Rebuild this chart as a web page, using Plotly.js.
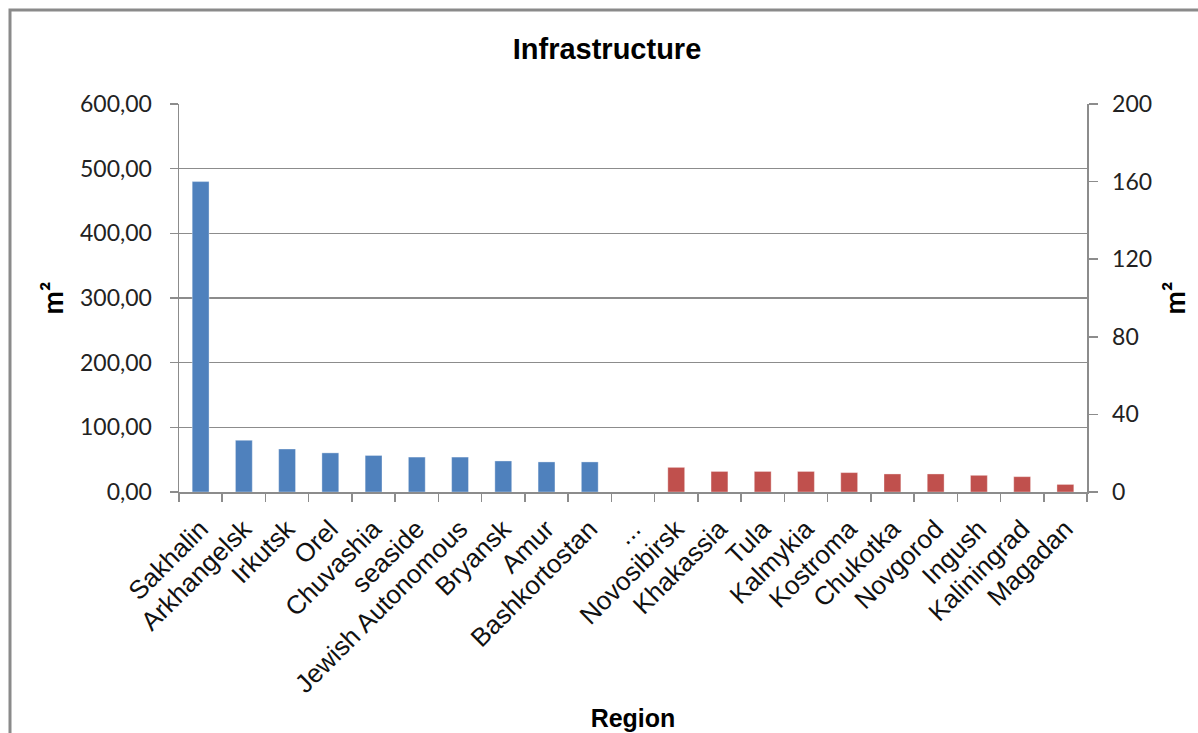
<!DOCTYPE html>
<html>
<head>
<meta charset="utf-8">
<script src="https://cdn.plot.ly/plotly-3.0.1.min.js"></script>
<style>
  html, body { margin: 0; padding: 0; background: #ffffff; }
  #chart { width: 1198px; height: 733px; }
</style>
</head>
<body>
<div id="chart"></div>
<script>
// Region categories in display order ("..." marks the omitted middle of the ranking)
const regions = [
  "Sakhalin", "Arkhangelsk", "Irkutsk", "Orel", "Chuvashia", "seaside",
  "Jewish Autonomous", "Bryansk", "Amur", "Bashkortostan",
  "...",
  "Novosibirsk", "Khakassia", "Tula", "Kalmykia", "Kostroma", "Chukotka",
  "Novgorod", "Ingush", "Kaliningrad", "Magadan"
];
// Top regions (left axis, m²)
const topRegions = regions.slice(0, 10);
const topValues = [480, 80, 66.5, 60.5, 56.5, 54, 54, 48, 46.5, 46.5];
// Bottom regions (right axis, m²)
const bottomRegions = regions.slice(11);
const bottomValues = [12.7, 10.6, 10.6, 10.6, 10, 9.3, 9.3, 8.6, 7.9, 3.9];

const leftTicks = [0, 100, 200, 300, 400, 500, 600];
const rightTicks = [0, 40, 80, 120, 160, 200];

const W = 1198, H = 733;
const M = { l: 179, r: 111, t: 104, b: 241 };
const plotW = W - M.l - M.r, plotH = H - M.t - M.b;
const px2x = (px) => (px - M.l) / plotW;
const px2y = (py) => (H - M.b - py) / plotH;

const gridColor = "#8c8c8c";
const axisColor = "#8c8c8c";

const traces = [
  {
    type: "bar",
    x: topRegions,
    y: topValues,
    yaxis: "y",
    width: 0.39,
    marker: { color: "#4F81BD", line: { width: 0.6, color: "rgba(255,255,255,0.6)" } },
    hoverinfo: "x+y",
    showlegend: false
  },
  {
    type: "bar",
    x: bottomRegions,
    y: bottomValues,
    yaxis: "y2",
    width: 0.39,
    marker: { color: "#C0504D", line: { width: 0.6, color: "rgba(255,255,255,0.6)" } },
    hoverinfo: "x+y",
    showlegend: false
  }
];

const layout = {
  width: W,
  height: H,
  margin: M,
  paper_bgcolor: "#ffffff",
  plot_bgcolor: "#ffffff",
  barmode: "overlay",
  separators: ", ",
  showlegend: false,
  title: {
    text: "<b>Infrastructure</b>",
    font: { family: "Liberation Sans, Arial, sans-serif", size: 29, color: "#000" },
    x: 607 / W,
    xref: "container",
    xanchor: "center",
    y: 1 - 49 / H,
    yref: "container",
    yanchor: "middle"
  },
  xaxis: {
    type: "category",
    categoryorder: "array",
    categoryarray: regions,
    range: [-0.5, regions.length - 0.5],
    tickangle: -45,
    tickfont: { family: "Liberation Sans, Arial, sans-serif", size: 26, color: "#111" },
    ticks: "outside",
    tickson: "boundaries",
    ticklen: 8,
    tickcolor: axisColor,
    tickwidth: 1.5,
    ticklabelstandoff: 10,
    showline: true,
    linecolor: axisColor,
    linewidth: 1.5,
    showgrid: false,
    zeroline: false,
    automargin: false,
    fixedrange: true,
    title: {
      text: "<b>Region</b>",
      font: { family: "Liberation Sans, Arial, sans-serif", size: 25, color: "#000" },
      standoff: 12
    }
  },
  yaxis: {
    range: [0, 600],
    tickvals: leftTicks,
    tickformat: ".2f",
    tickfont: { family: "Lato, sans-serif", size: 23, color: "#222" },
    ticks: "outside",
    ticklen: 8,
    tickcolor: axisColor,
    tickwidth: 1.5,
    ticklabelstandoff: 13,
    showline: true,
    linecolor: axisColor,
    linewidth: 1.5,
    showgrid: true,
    gridcolor: gridColor,
    gridwidth: 1.5,
    zeroline: false,
    automargin: false,
    fixedrange: true,
    title: {
      text: "<b>m²</b>",
      font: { family: "Lato, sans-serif", size: 28, color: "#000" },
      standoff: 8
    }
  },
  yaxis2: {
    overlaying: "y",
    side: "right",
    range: [0, 200],
    tickvals: rightTicks,
    tickfont: { family: "Lato, sans-serif", size: 23, color: "#222" },
    ticks: "outside",
    ticklen: 9,
    tickcolor: axisColor,
    tickwidth: 1.5,
    ticklabelstandoff: 10,
    showline: true,
    linecolor: axisColor,
    linewidth: 1.5,
    showgrid: false,
    zeroline: false,
    automargin: false,
    fixedrange: true,
    title: {
      text: "<b>m²</b>",
      font: { family: "Lato, sans-serif", size: 28, color: "#000" },
      standoff: 14
    }
  },
  shapes: [
    {
      type: "rect",
      xref: "paper",
      yref: "paper",
      x0: px2x(10),
      x1: px2x(W + 20),
      y0: px2y(H + 20),
      y1: px2y(10),
      line: { color: "#8a8a8a", width: 3 },
      fillcolor: "rgba(0,0,0,0)",
      layer: "below"
    }
  ]
};

Plotly.newPlot("chart", traces, layout, { displayModeBar: false, staticPlot: true });
</script>
</body>
</html>
